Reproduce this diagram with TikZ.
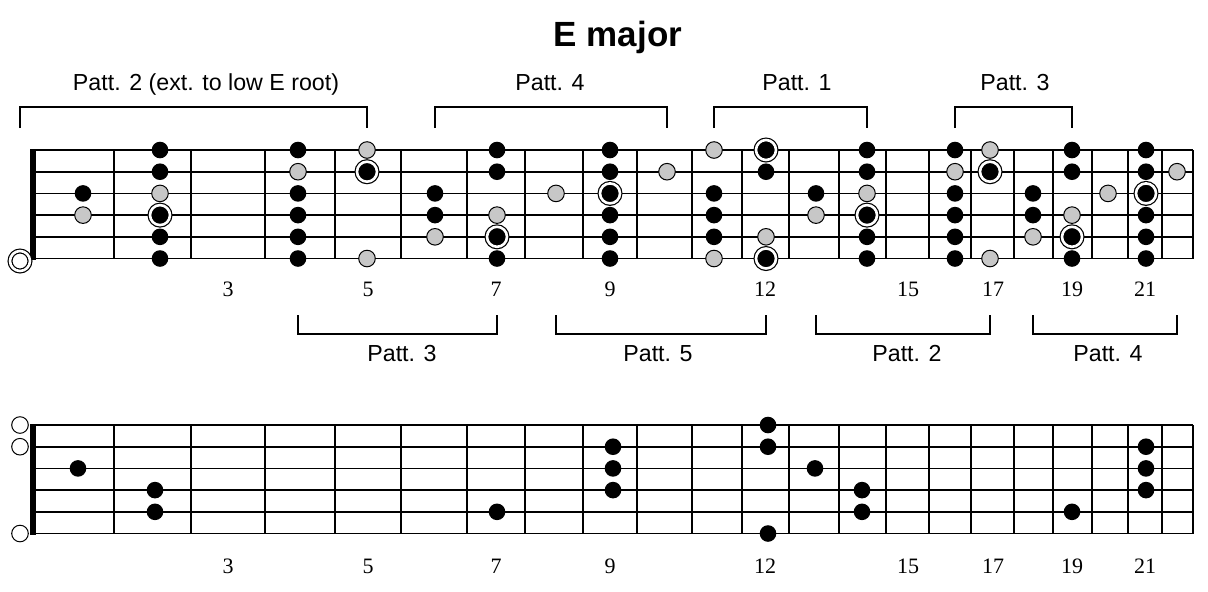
\documentclass[tikz,border=0pt]{standalone}
\usepackage{fontspec}
\setmainfont{Liberation Sans}
\newfontfamily\numfont{Liberation Serif}
\usetikzlibrary{positioning}
\tikzstyle{every picture}=[x=0.5pt, y=-0.5pt]
\tikzstyle{dot}=[circle, inner sep=0pt, minimum size=8.3pt]
\tikzstyle{dotb}=[dot, fill=black]
\tikzstyle{dotg}=[dot, fill=black!22, draw=black, line width=0.5pt]
\tikzstyle{dotr}=[dot, minimum size=10pt, fill=black, draw=black, line width=0.6pt,%
	double=white, double distance=1.3pt]
\tikzstyle{dotw}=[dot, fill=white, draw=black, line width=0.5pt]
\tikzstyle{dotwr}=[dotr, fill=white]
\tikzstyle{fretline}=[line width=1pt]
\tikzstyle{strline}=[line width=0.8pt]
\tikzstyle{nutline}=[line width=3pt]
\tikzstyle{bracket}=[line width=0.65pt]
\tikzstyle{patt}=[font=\fontsize{11.6}{13}\selectfont, anchor=base]
\tikzstyle{fretnum}=[font=\numfont\fontsize{11}{13}\selectfont, anchor=base]

\begin{document}
\begin{tikzpicture}
	\useasboundingbox (0,0) rectangle (1208,591);
	\def\frets{33,114,191,265,335,401,467,525,583,637,692,742,789,839,886,929,971,1014,1053,1092,1128,1162,1193}
	\def\tcol{{83,160,228,298,367,435,497,556,610,667,714,766,816,867,908,955,990,1033,1072,1108,1146,1177}}
	\def\ucol{{78,155,228,298,367,435,497,556,613,667,714,768,815,862,908,955,990,1033,1072,1108,1146,1177}}
	\node[font=\bfseries\fontsize{17.5}{20}\selectfont, anchor=base] (title) at (618,46) {E major};
	% the two boards
	\foreach \y in {150,425} {
		\foreach \x in \frets \draw[fretline] (\x,\y) -- (\x,\y+108.5);
		\foreach \s in {0,...,5} \draw[strline] (33,\y+21.7*\s) -- (1193,\y+21.7*\s);
		\draw[nutline] (33,\y-1) -- (33,\y+109.5);
	}
	% scale, with patterns
	\node[dotwr] (t0s6) at (20,261) {};
	\foreach \f/\s/\k in {1/3/b,1/4/g, 2/1/b,2/2/b,2/3/g,2/4/r,2/5/b,2/6/b,
		4/1/b,4/2/g,4/3/b,4/4/b,4/5/b,4/6/b, 5/1/g,5/2/r,5/6/g, 6/3/b,6/4/b,6/5/g,
		7/1/b,7/2/b,7/4/g,7/5/r,7/6/b, 8/3/g, 9/1/b,9/2/b,9/3/r,9/4/b,9/5/b,9/6/b,
		10/2/g, 11/1/g,11/3/b,11/4/b,11/5/b,11/6/g, 12/1/r,12/2/b,12/5/g,12/6/r,
		13/3/b,13/4/g, 14/1/b,14/2/b,14/3/g,14/4/r,14/5/b,14/6/b,
		16/1/b,16/2/g,16/3/b,16/4/b,16/5/b,16/6/b, 17/1/g,17/2/r,17/6/g,
		18/3/b,18/4/b,18/5/g, 19/1/b,19/2/b,19/4/g,19/5/r,19/6/b, 20/3/g,
		21/1/b,21/2/b,21/3/r,21/4/b,21/5/b,21/6/b, 22/2/g} {
		\pgfmathsetmacro\cx{\tcol[\f-1]}
		\node[dot\k] (t\f s\s) at (\cx,150+21.7*\s-21.7) {};
	}
	% chord tones
	\foreach \s in {1,2,6} \node[dotw] (u0s\s) at (20,425+21.7*\s-21.7) {};
	\foreach \f/\s in {1/3, 2/4,2/5, 7/5, 9/2,9/3,9/4, 12/1,12/2,12/6, 13/3,
		14/4,14/5, 19/5, 21/2,21/3,21/4} {
		\pgfmathsetmacro\cx{\ucol[\f-1]}
		\node[dotb] (u\f s\s) at (\cx,425+21.7*\s-21.7) {};
	}
	\foreach \n/\x in {3/228,5/368,7/496,9/610,12/765,15/908,17/993,19/1072,21/1145} {
		\node[fretnum] (tn\n) at (\x,296) {\n};
		\node[fretnum] (un\n) at (\x,573) {\n};
	}
	% brackets
	\foreach \a/\c/\x/\n in {t0s6/t5s1/206/2 (ext. to low E root), t6s3/t10s2/550/4,
		t11s1/t14s1/797/1, t16s1/t19s1/1015/3} {
		\draw[bracket] (\a.center |- 0,128) |- (\c.center |- 0,107) -- (\c.center |- 0,128);
		\node[patt] (p\a) at (\x,90) {Patt. \n};
	}
	\foreach \a/\c/\x/\n in {t4s1/t7s1/402/3, t8s3/t12s2/658/5, t13s3/t17s1/907/2,
		t18s3/t22s2/1108/4} {
		\draw[bracket] (\a.center |- 0,315) |- (\c.center |- 0,334) -- (\c.center |- 0,315);
		\node[patt] (q\a) at (\x,361) {Patt. \n};
	}
\end{tikzpicture}
\end{document}
